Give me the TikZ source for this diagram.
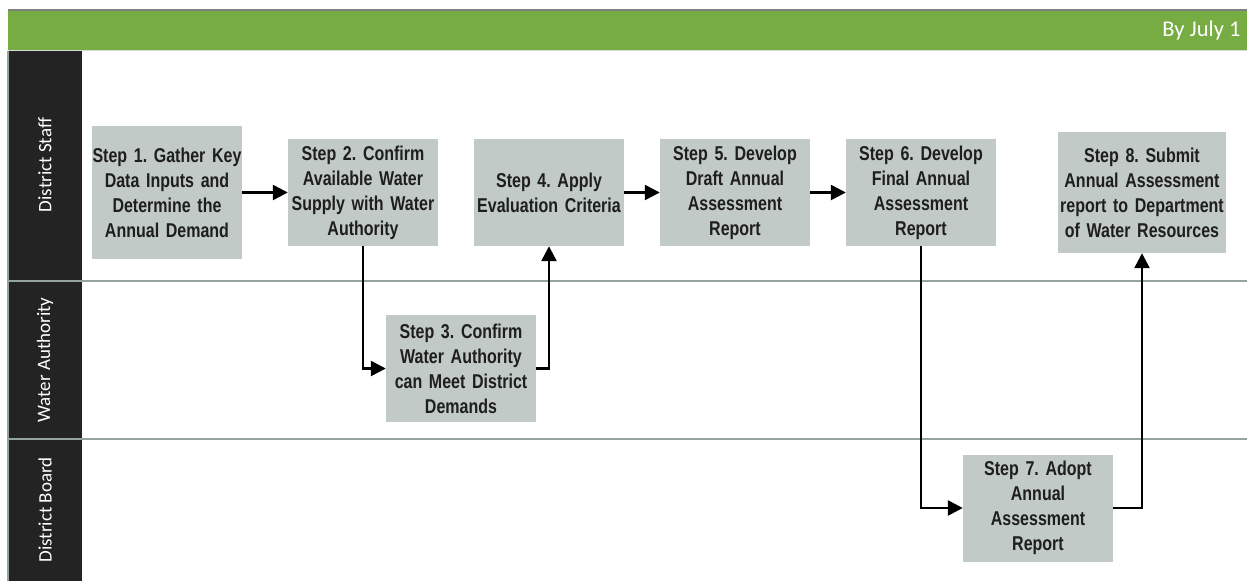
\documentclass[tikz,border=0pt]{standalone}
\usepackage{fontspec}
\setmainfont{Liberation Sans}[FakeStretch=0.8]
\newfontfamily\lanefont{Carlito}
\usetikzlibrary{arrows.meta}
\definecolor{boxgray}{RGB}{193,202,198}
\definecolor{bargreen}{RGB}{118,172,66}
\definecolor{lanedark}{RGB}{35,35,35}
\definecolor{laneline}{RGB}{150,165,155}
\definecolor{steptext}{RGB}{30,30,30}
\tikzstyle{stepbox}=[rectangle,fill=boxgray,text=steptext,text width=150pt,minimum height=107pt,inner sep=0pt,align=center,font=\frenchspacing\fontsize{20}{25}\selectfont\bfseries]
\tikzstyle{lanelabel}=[rotate=90,text=white,font=\lanefont\fontsize{19}{20}\selectfont]
\tikzstyle{flow}=[line width=2.5pt,-{Triangle[length=15pt,width=15pt]}]

\begin{document}
\begin{tikzpicture}[x=1pt,y=-1pt]
    \useasboundingbox (0,0) rectangle (1247,581);
    % header bar and swim lanes
    \fill[bargreen] (8,10) rectangle (1247,50);
    \draw[gray,line width=2pt] (8,10) -- (1247,10);
    \draw[black!15,line width=1.5pt] (8,50.5) -- (1247,50.5);
    \fill[lanedark] (8,51) rectangle (82,581);
    \draw[laneline,line width=1.5pt] (8,51) -- (8,581);
    \foreach \y in {281,439}
    \draw[laneline,line width=2pt] (8,\y) -- (1247,\y);
    \node[lanelabel] (l1) at (45,165) {District Staff};
    \node[lanelabel] (l2) at (45,360) {Water Authority};
    \node[lanelabel] (l3) at (45,510) {District Board};
    \node[anchor=east,text=white,font=\lanefont\fontsize{22.5}{24}\selectfont] (due) at (1244,30) {By July 1};

    % steps
    \node[stepbox,minimum height=133pt] (s1) at (167,192.5) {Step 1. Gather Key\\Data Inputs and\\Determine the\\Annual Demand};
    \node[stepbox] (s2) at (363,192.5) {Step 2. Confirm\\Available Water\\Supply with Water\\Authority};
    \node[stepbox] (s3) at (461,368.5) {Step 3. Confirm\\Water Authority\\can Meet District\\Demands};
    \node[stepbox] (s4) at (549,192.5) {Step 4. Apply\\Evaluation Criteria};
    \node[stepbox] (s5) at (735,192.5) {Step 5. Develop\\Draft Annual\\Assessment\\Report};
    \node[stepbox] (s6) at (921,192.5) {Step 6. Develop\\Final Annual\\Assessment\\Report};
    \node[stepbox] (s7) at (1038,508) {Step 7. Adopt\\Annual\\Assessment\\Report};
    \node[stepbox,text width=168pt,minimum height=121pt] (s8) at (1142,192.5) {Step 8. Submit\\Annual Assessment\\report to Department\\of Water Resources};

    \foreach \from/\to in {s1/s2,s4/s5,s5/s6}
    \draw[flow] (\from) -- (\to);
    \draw[flow] (s2) |- (s3);
    \draw[flow] (s3) -| (s4);
    \draw[flow] (s6) |- (s7);
    \draw[flow] (s7) -| (s8);
\end{tikzpicture}
\end{document}
